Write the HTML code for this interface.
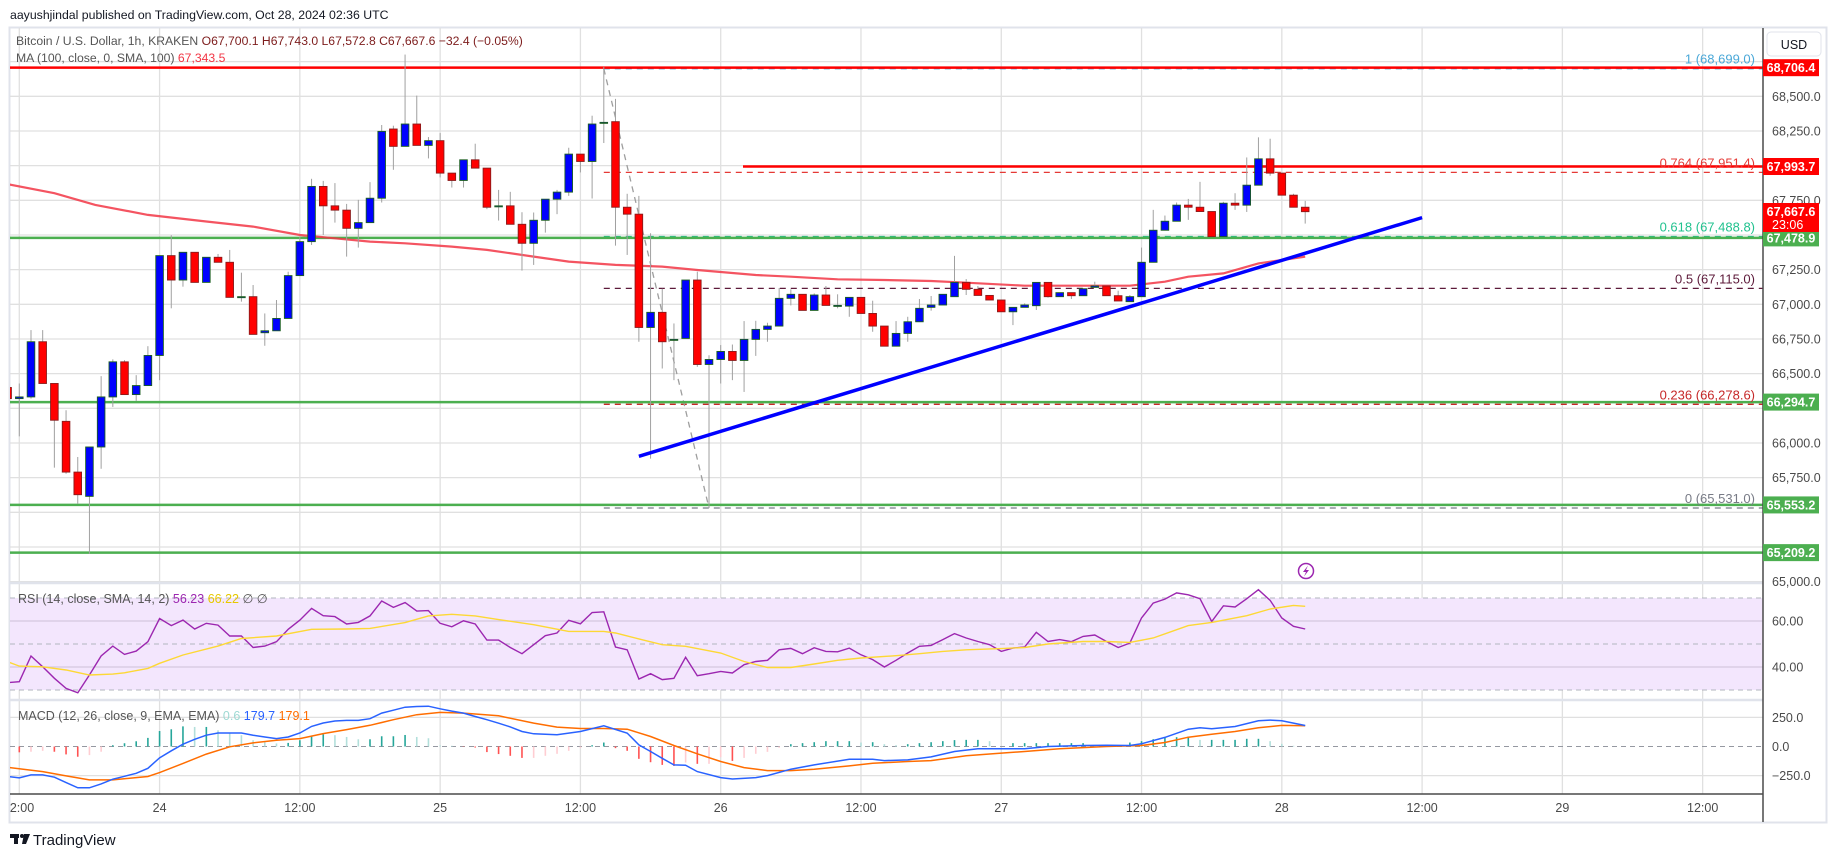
<!DOCTYPE html>
<html><head><meta charset="utf-8">
<style>
body{margin:0;background:#fff;font-family:"Liberation Sans",sans-serif;}
svg{display:block}
text{font-family:"Liberation Sans",sans-serif;}
</style></head>
<body>
<svg id="chart" width="1835" height="857" viewBox="0 0 1835 857" xmlns="http://www.w3.org/2000/svg">
<defs>
<clipPath id="mainClip"><rect x="10" y="28" width="1753" height="555"/></clipPath>
<clipPath id="indClip"><rect x="10" y="584" width="1753" height="210"/></clipPath>
</defs>
<rect x="0" y="0" width="1835" height="857" fill="#fff"/>
<text x="10" y="19" font-size="12.3" fill="#131722">aayushjindal published on TradingView.com, Oct 28, 2024 02:36 UTC</text>
<rect x="9.5" y="27.5" width="1817" height="795" fill="none" stroke="#e0e3eb" stroke-width="2"/>
<g id="grid"></g>
<rect x="10" y="598" width="1753" height="92" fill="#f3e6fd"/>
<g id="rsigrid"></g>
<g id="overlays" clip-path="url(#mainClip)"></g>
<g id="candles" clip-path="url(#mainClip)"></g>
<g id="ind" clip-path="url(#indClip)"></g>
<g id="axes"></g>
<g id="labels"></g>
</svg>
<script>
// ===== data =====
const firstIndex = -1; // hours relative to Oct 23 12:00
const opens  = [66400,66320,66332,66730,66429,66156,65790,65615,65971,66332,66585,66349,66414,66631,67351,67175,67375,67158,67339,67303,67055,67055,66795,66809,66898,67207,67452,67850,67710,67679,67548,67589,67765,68264,68139,68300,68146,68180,67946,67893,68042,67982,67710,67710,67577,67440,67606,67758,67809,68083,68030,68312,68317,67700,67650,66833,66942,66747,66754,67175,66566,66602,66660,66595,66747,66819,66843,67043,67072,66956,67067,66992,66987,67050,66934,66843,66698,66790,66874,66978,66995,67055,67158,67108,67064,67031,66946,66978,66990,67158,67055,67084,67062,67122,67132,67062,67019,67055,67303,67534,67599,67715,67700,67669,67488,67729,67715,67859,68049,67946,67787,67700];
const closes = [66320,66332,66730,66429,66164,65790,65627,65971,66332,66585,66349,66414,66631,67351,67175,67375,67158,67339,67303,67050,67055,66783,66809,66898,67207,67452,67850,67710,67679,67548,67589,67765,68247,68139,68300,68146,68180,67946,67893,68042,67982,67700,67710,67577,67440,67606,67758,67809,68083,68030,68300,68312,67700,67650,66833,66942,66730,66747,67175,66566,66602,66660,66595,66747,66819,66843,67043,67072,66956,67067,66992,66992,67050,66934,66843,66698,66790,66874,66971,66995,67072,67158,67108,67064,67031,66946,66978,66995,67158,67055,67084,67062,67112,67132,67062,67024,67055,67303,67534,67599,67715,67700,67669,67488,67729,67715,67859,68049,67946,67787,67700,67668];
const highs  = [66400,66429,66814,66814,66429,66236,65899,65971,66482,66603,66597,66489,66698,67351,67498,67375,67375,67339,67363,67392,67228,67139,66934,67031,67235,67488,67905,67890,67874,67724,67753,67881,68293,68288,68801,68505,68206,68235,67946,68042,68158,67982,67825,67811,67664,67662,67758,67825,68129,68083,68360,68712,68481,67797,67782,67512,67112,66862,67175,67235,66633,66706,66710,66879,66881,66867,67117,67108,67072,67079,67132,67072,67050,67050,67026,66843,66879,66910,67038,67060,67072,67349,67182,67132,67064,67031,66978,67007,67158,67158,67084,67084,67112,67163,67132,67098,67067,67409,67681,67640,67734,67760,67883,67669,67739,67801,68059,68204,68194,67946,67797,67746];
const lows   = [66320,66048,66320,66429,65822,65778,65561,65200,65814,66260,66349,66303,66414,66453,66971,67127,67158,67158,67303,67050,67019,66783,66701,66809,66898,67207,67428,67500,67589,67344,67409,67589,67734,67970,68139,68146,68052,67915,67842,67842,67982,67686,67604,67577,67243,67284,67517,67650,67782,67951,67763,68163,67423,67356,66730,65887,66537,66453,66754,66549,65530,66429,66453,66368,66628,66730,66843,66992,66956,66956,66992,66971,66910,66934,66802,66698,66698,66730,66874,66954,66995,67055,67067,67064,67031,66946,66850,66978,66959,67048,67055,67038,67062,67122,67062,67024,67019,67055,67303,67534,67599,67609,67669,67488,67488,67681,67666,67859,67927,67787,67700,67582];
const maIdx  = [-1,3,6.5,11,16,20,24,27,30,33,37,40,44,47,51,55,58,63,66,70,74,78,81,86,95,98,100,103,106,110];
const maVals = [67866,67801,67717,67645,67597,67560,67500,67476,67452,67440,67416,67392,67344,67308,67284,67272,67247,67211,67199,67180,67175,67168,67156,67134,67134,67163,67199,67223,67295,67344];
const rsiVals = [33.2,33.6,44.8,40.1,35.1,30.7,28.8,36.5,44.8,49.1,45.5,46.9,51.0,61.1,58.0,60.4,56.5,59.0,58.2,53.5,53.5,48.5,49.1,51.0,56.4,60.4,65.5,62.3,61.9,58.7,59.4,62.2,68.7,65.9,68.0,64.3,64.5,59.0,57.5,60.1,58.7,51.7,51.7,48.5,45.8,49.7,53.6,54.8,60.3,58.8,63.7,64.0,48.7,47.5,34.8,37.1,34.5,35.1,44.2,36.2,37.1,38.1,37.4,41.0,42.4,42.9,47.5,48.1,45.8,48.4,46.8,46.6,48.2,45.3,43.2,40.0,42.9,46.1,49.0,49.4,51.9,54.5,52.6,51.1,49.7,46.8,48.2,48.7,55.1,51.1,51.9,51.0,53.3,53.9,51.1,48.5,50.4,61.3,67.8,69.5,72.2,71.4,69.7,59.8,66.6,66.1,69.7,73.6,69.0,61.3,57.7,56.5];
const rsiSmaIdx  = [-1,0,2,4,6,8,9,11,12,14,17,19,22,25,28,30,33,35,37,39,41,44,47,50,51,53,55,57,60,62,64,66,68,70,72,75,77,79,81,84,86,88,91,93,95,97,100,102,105,107,109,110];
const rsiSmaVals = [42.3,40.4,40.1,38.7,36.5,36.9,37.5,39.4,41.6,45.2,49.1,52.4,53.5,56.4,56.5,56.8,59.3,62.2,62.9,62.2,60.6,58.4,55.5,55.5,54.8,52.2,49.7,49.0,46.1,42.4,39.8,39.8,41.3,42.9,43.9,44.9,45.8,46.8,47.5,48.0,48.5,50.0,51.1,51.1,50.7,52.6,58.0,59.4,62.3,65.2,66.8,66.4];
const macdIdx  = [-1,0,1,2,3,4,5,6,7,8,9,10,11,12,13,14,15,16,17,18,19,20,21,22,23,24,25,26,27,28,29,30,31,32,33,34,35,36,37,38,39,40,41,42,43,44,46,48,50,52,53,54,55,56,57,58,60,61,63,64,66,68,71,73,74,76,78,80,82,84,86,88,91,93,95,96,98,100,101,102,104,106,107,108,110];
const macdVals = [-258,-270,-244,-244,-264,-310,-355,-355,-321,-281,-256,-230,-187,-97,-37,20,62,97,116,116,116,97,82,68,82,116,173,202,219,224,224,239,287,312,338,344,346,324,304,287,258,230,200,168,129,109,101,129,178,115,14,-43,-101,-158,-161,-216,-267,-279,-267,-250,-195,-158,-109,-109,-121,-115,-89,-43,-20,-20,-20,0,9,11,9,23,78,149,161,152,172,221,227,221,180];
const sigIdx  = [-1,2,4,6,8,11,12,14,16,18,20,22,24,26,28,30,32,34,36,38,41,44,46,48,50,52,54,56,58,60,62,64,66,68,71,73,76,78,81,84,86,89,93,96,98,100,102,104,106,108,110];
const sigVals = [-179,-216,-253,-287,-287,-258,-224,-145,-65,-3,31,54,68,111,145,182,230,273,293,287,264,201,167,155,155,149,86,9,-63,-129,-181,-207,-207,-195,-167,-144,-129,-121,-80,-57,-43,-20,0,9,34,80,106,129,161,181,179];
const histVals = [-40,-50,-45,-37,-45,-68,-88,-74,-45,11,28,45,74,133,148,173,168,168,139,116,97,54,40,26,31,54,88,105,97,82,62,62,88,88,99,82,71,9,6,-3,-9,-48,-65,-80,-98,-98,-80,-63,-37,-11,11,34,-14,-37,-106,-135,-158,-167,-138,-149,-149,-92,-124,-98,-63,-46,-11,20,29,37,46,46,46,34,37,20,11,20,29,37,46,55,57,57,46,0,29,29,29,29,29,29,29,6,6,6,34,46,63,80,80,86,57,57,57,57,66,66,46,23,6];
const timeLabels = ["2:00","24","12:00","25","12:00","26","12:00","27","12:00","28","12:00","29","12:00"];
const priceTicks = [68500,68250,67750,67250,67000,66750,66500,66000,65750,65000];
const gridPrices = [65000,65250,65500,65750,66000,66250,66500,66750,67000,67250,67500,67750,68000,68250,68500,68750];
const greenLevels = [67478.9,66294.7,65553.2,65209.2];
const redLevels = [68706.4];
const resistance = 67993.7;
const fibPrices = [68699.0,67951.4,67488.8,67115.0,66278.6,65531.0];
const fibNames = ["1","0.764","0.618","0.5","0.236","0"];
const fibColors = ["#4aa8d8","#e53935","#22c28f","#5d1a3a","#c62828","#787b86"];
const trendIdx = [53,120];
const trendVals = [65904,67625];
const lastPrice = 67667.6;

// ===== scales =====
const L=10, R=1763, TOP=28, MAINB=583;
const xOf = k => 19.3 + 11.69*k;
const yP = p => 304.3 - (p-67000)*0.13867;
const yR = v => 644 - (v-50)*2.3;
const yM = v => 746.5 - v*0.1164;
const NS="http://www.w3.org/2000/svg";
function mk(tag, attrs, parent){const e=document.createElementNS(NS,tag);for(const k in attrs)e.setAttribute(k,attrs[k]);parent.appendChild(e);return e;}
const G=id=>document.getElementById(id);
const fmt=v=>v.toLocaleString('en-US',{minimumFractionDigits:1,maximumFractionDigits:1});

// grid
const grid=G('grid');
for(let i=0;i<timeLabels.length;i++){
  const x=xOf(i*12);
  const l=mk('line',{x1:x,x2:x,y1:TOP,y2:794,stroke:'#e0e0e0','stroke-width':1.3},grid);
  
  
}
gridPrices.forEach(p=>{const y=yP(p); if(y<TOP||y>MAINB)return;
  const l=mk('line',{x1:L,x2:R,y1:y,y2:y,stroke:'#e0e0e0','stroke-width':1.3},grid);
  
  
});
[250,-250].forEach(v=>{const l=mk('line',{x1:L,x2:R,y1:yM(v),y2:yM(v),stroke:'#e0e0e0','stroke-width':1.3},grid);
  
  });
const rg=G('rsigrid');
[60,40].forEach(v=>{const l=mk('line',{x1:L,x2:R,y1:yR(v),y2:yR(v),stroke:'#d5c8e0','stroke-width':1.3},rg);
  
  });
[70,50,30].forEach(v=>{const l=mk('line',{x1:L,x2:R,y1:yR(v),y2:yR(v),stroke:'#b2b5be','stroke-width':1,'stroke-dasharray':'5,4'},rg);
  
  });
{const l=mk('line',{x1:L,x2:R,y1:yM(0),y2:yM(0),stroke:'#9598a1','stroke-width':1,'stroke-dasharray':'5,4'},rg);
  
  }
[[583,'#e0e3eb',2.5],[700,'#e0e3eb',2.5],[794,'#4a4a4a',1.5]].forEach(([y,c,w])=>{
  const l=mk('line',{x1:L,x2:R,y1:y,y2:y,stroke:c,'stroke-width':w},grid);
  
  
});

// overlays
const ov=G('overlays');
fibPrices.forEach((p,i)=>{
  const y=yP(p);
  const l=mk('line',{x1:xOf(50),x2:R,y1:y,y2:y,stroke:fibColors[i],'stroke-width':1.3,'stroke-dasharray':'6,5'},ov);
  
  
  const t=mk('text',{x:1755,y:y-5,'text-anchor':'end','font-size':13,fill:fibColors[i]},G('labels'));
  t.textContent=fibNames[i]+' ('+fmt(p)+')';
  
  
});
{const d=mk('line',{x1:xOf(50),y1:yP(fibPrices[0]),x2:xOf(59),y2:yP(fibPrices[5]),stroke:'#9e9e9e','stroke-width':1.3,'stroke-dasharray':'6,5'},ov);
  
  }
redLevels.forEach(p=>{const l=mk('line',{x1:L,x2:R,y1:yP(p),y2:yP(p),stroke:'#ff0000','stroke-width':2.5},ov);
  
  });
{const l=mk('line',{x1:743,x2:R,y1:yP(resistance),y2:yP(resistance),stroke:'#ff0000','stroke-width':2.5},ov);
  
  }
greenLevels.forEach(p=>{const l=mk('line',{x1:L,x2:R,y1:yP(p),y2:yP(p),stroke:'#4caf50','stroke-width':2.5},ov);
  
  });
{let d='';maIdx.forEach((k,i)=>{d+=(i?'L':'M')+xOf(k).toFixed(1)+','+yP(maVals[i]).toFixed(1);});
 const p=mk('path',{d:d,fill:'none',stroke:'#f23645','stroke-width':2.2,'stroke-opacity':0.85},ov);
 
 }

// candles
const cg=G('candles');
opens.forEach((o,i)=>{
  const k=i+firstIndex, x=xOf(k), c=closes[i], up=c>=o;
  const w=mk('line',{x1:x,x2:x,y1:yP(highs[i]),y2:yP(lows[i]),stroke:'#a0a0a0','stroke-width':1},cg);
  
  
  const top=yP(Math.max(o,c)), h=Math.max(1,yP(Math.min(o,c))-top);
  const b=mk('rect',{x:x-3.8,y:top,width:7.6,height:h,fill:up?'#0000ff':'#ff0000',stroke:up?'#1b5e20':'#8b1a1a','stroke-width':0.9},cg);
  
  
});
{const t=mk('line',{x1:xOf(trendIdx[0]),y1:yP(trendVals[0]),x2:xOf(trendIdx[1]),y2:yP(trendVals[1]),stroke:'#0000ff','stroke-width':3.5},cg);
 
 }

// indicators
const ind=G('ind');
{let d='';rsiVals.forEach((v,i)=>{d+=(i?'L':'M')+xOf(i+firstIndex).toFixed(1)+','+yR(v).toFixed(1);});
 const p=mk('path',{d:d,fill:'none',stroke:'#9c27b0','stroke-width':1.4},ind);
 
 }
{let d='';rsiSmaIdx.forEach((k,i)=>{d+=(i?'L':'M')+xOf(k).toFixed(1)+','+yR(rsiSmaVals[i]).toFixed(1);});
 const p=mk('path',{d:d,fill:'none',stroke:'#fdd835','stroke-width':1.4},ind);
 
 }
histVals.forEach((v,i)=>{
  const prev=i?histVals[i-1]:v;
  const col=v>=0?(v>=prev?'#26a69a':'#b2dfdb'):(v<prev?'#ff5252':'#ffcdd2');
  const x=xOf(i+firstIndex);
  const b=mk('line',{x1:x,x2:x,y1:yM(0),y2:yM(v),stroke:col,'stroke-width':1.6},ind);
  
  
});
{let d='';sigIdx.forEach((k,i)=>{d+=(i?'L':'M')+xOf(k).toFixed(1)+','+yM(sigVals[i]).toFixed(1);});
 const p=mk('path',{d:d,fill:'none',stroke:'#ff6d00','stroke-width':1.5},ind);
 
 }
{let d='';macdIdx.forEach((k,i)=>{d+=(i?'L':'M')+xOf(k).toFixed(1)+','+yM(macdVals[i]).toFixed(1);});
 const p=mk('path',{d:d,fill:'none',stroke:'#2962ff','stroke-width':1.5},ind);
 
 }

// axes
const ax=G('axes');
{const l=mk('line',{x1:R,x2:R,y1:TOP,y2:822,stroke:'#4a4a4a','stroke-width':1.5},ax);
 
 }
priceTicks.forEach(p=>{const t=mk('text',{x:1772,y:yP(p)+4.5,'font-size':12.5,fill:'#4a4a4a'},ax);
  t.textContent=fmt(p);
  
  });
[[60,'60.00',yR(60)],[40,'40.00',yR(40)],[250,'250.0',yM(250)],[0,'0.0',yM(0)],[-250,'\u2212250.0',yM(-250)]].forEach(([v,s,y])=>{
  const t=mk('text',{x:1772,y:y+4.5,'font-size':12.5,fill:'#4a4a4a'},ax);
  t.textContent=s;
  
  });
timeLabels.forEach((s,i)=>{const x=i?xOf(i*12):22;
  const t=mk('text',{x:x,y:812,'text-anchor':'middle','font-size':12.5,fill:'#4a4a4a'},ax);
  t.textContent=s;
  
  });
function badge(p,bg,name){const y=yP(p);
  const r=mk('rect',{x:1763,y:y-8.5,width:56,height:17,fill:bg},ax);
  
  
  const t=mk('text',{x:1791,y:y+4.5,'text-anchor':'middle','font-size':12.5,'font-weight':'bold',fill:'#fff'},ax);
  t.textContent=fmt(p);
  
  }
badge(68706.4,'#ff0000','price-badge-red');
badge(resistance,'#ff0000','price-badge-red');
greenLevels.forEach(p=>badge(p,'#4caf50','price-badge-green'));
{const r=mk('rect',{x:1763,y:203,width:56,height:29,fill:'#ff0000'},ax);
 
 
 const t=mk('text',{x:1791,y:216,'text-anchor':'middle','font-size':12.5,'font-weight':'bold',fill:'#fff'},ax);
 t.textContent=fmt(lastPrice);
 
 
 const t2=mk('text',{x:1772,y:229,'font-size':12.5,fill:'#fff'},ax);
 t2.textContent='23:06';
 
 }
</script>
<svg style="position:absolute;left:0;top:0" width="1835" height="857">
<g font-family="Liberation Sans, sans-serif">
<rect x="1767" y="32" width="54" height="24" rx="4" fill="#fff" stroke="#e0e3eb"/>
<text x="1794" y="49" text-anchor="middle" font-size="12.5" fill="#131722">USD</text>
<text x="16" y="45" font-size="12.2" fill="#555"><tspan>Bitcoin / U.S. Dollar, 1h, KRAKEN </tspan><tspan fill="#7d1c1c"> O67,700.1  H67,743.0  L67,572.8  C67,667.6  −32.4 (−0.05%)</tspan></text>
<text x="16" y="62" font-size="12.2" fill="#555">MA (100, close, 0, SMA, 100) <tspan fill="#f23645">67,343.5</tspan></text>
<text x="18" y="603" font-size="12.5" fill="#555">RSI (14, close, SMA, 14, 2) <tspan fill="#9c27b0">56.23</tspan> <tspan fill="#e6c800">66.22</tspan> ∅ ∅</text>
<text x="18" y="720" font-size="12.5" fill="#555">MACD (12, 26, close, 9, EMA, EMA) <tspan fill="#9ed9d3">0.6</tspan> <tspan fill="#2962ff">179.7</tspan> <tspan fill="#ff6d00">179.1</tspan></text>
<g><circle cx="1306" cy="571" r="7.5" fill="#fff" stroke="#9c27b0" stroke-width="1.5"/><path d="M1308 565.5 L1303 572 L1306 572 L1304 576.5 L1309 570 L1306 570 Z" fill="#9c27b0"/></g>
<g><rect x="10" y="834" width="9" height="4" fill="#131722"/><rect x="14" y="834" width="4" height="10" fill="#131722"/><circle cx="22" cy="836" r="2" fill="#131722"/><path d="M24 834 L30 834 L26 844 L22 844 Z" fill="#131722"/>
<text x="33" y="845" font-size="15" fill="#131722">TradingView</text></g>
</g>
</svg>
</body></html>
